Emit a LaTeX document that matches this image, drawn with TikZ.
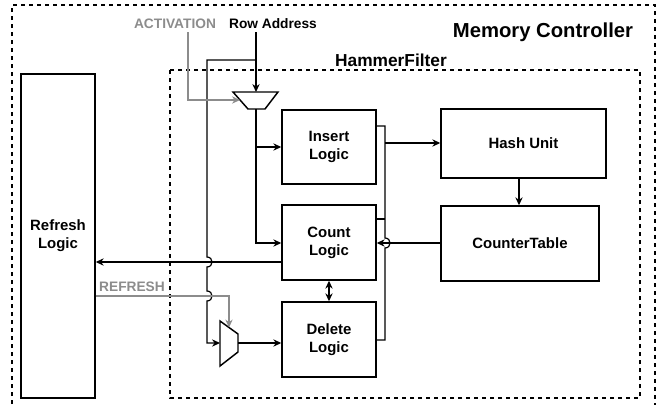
\documentclass[tikz,border=0pt]{standalone}
\usepackage{fontspec}
\setmainfont{Liberation Sans}
\usetikzlibrary{arrows.meta}
\definecolor{sigGray}{RGB}{140,140,140}
\begin{document}
\begin{tikzpicture}[x=0.75pt,y=-0.75pt,
  blk/.style={draw, line width=1.1pt, align=center, inner sep=0pt,
    font=\bfseries\fontsize{11.2}{13.5}\selectfont},
  wire/.style={draw, line width=0.9pt},
  arr/.style={wire, -{Stealth[length=6pt,width=5.5pt,inset=2pt]}},
  darr/.style={wire, {Stealth[length=6pt,width=5.5pt,inset=2pt]}-{Stealth[length=6pt,width=5.5pt,inset=2pt]}},
  garr/.style={arr, sigGray},
  frame/.style={draw, line width=0.9pt, dash pattern=on 3pt off 3pt},
  muxs/.style={draw, line width=1.1pt, line join=miter},
  lbl/.style={font=\bfseries\fontsize{10.3}{12}\selectfont, inner sep=0pt},
  glbl/.style={lbl, text=sigGray}
]
\useasboundingbox (0,0) rectangle (672,404);

% frames
\draw[frame] (12,412) -- (12,5) -- (655,5) -- (655,412);
\draw[frame] (170,70) rectangle (640,398);
\node[inner sep=0pt, font=\bfseries\fontsize{15.2}{18}\selectfont] (mc) at (543,32) {Memory Controller};
\node[inner sep=0pt, font=\bfseries\fontsize{13}{15}\selectfont] (hf) at (391,60) {HammerFilter};

% blocks
\node[blk, minimum width=55.5pt, minimum height=243pt] (refresh) at (58,236) {Refresh\\Logic};
\node[blk, minimum width=70.5pt, minimum height=55.5pt] (insert) at (329,147) {Insert\\Logic};
\node[blk, minimum width=70.5pt, minimum height=56.25pt] (count) at (329,242.5) {Count\\Logic};
\node[blk, minimum width=70.5pt, minimum height=56.25pt] (delete) at (329,339.5) {Delete\\Logic};
\node[blk, minimum width=123.75pt, minimum height=51.75pt] (hash) at (523.5,143.5) {Hash Unit};
\node[blk, minimum width=118.5pt, minimum height=56.25pt] (ctable) at (520,243.5) {CounterTable};

% labels
\node[glbl] (act) at (175,24) {ACTIVATION};
\node[lbl] (row) at (273,24) {Row Address};
\node[glbl] (ref) at (132,287) {REFRESH};

% muxes
\draw[muxs] (233,92) -- (278,92) -- (265,109) -- (248,109) -- cycle;
\coordinate (mux1in) at (256,92);
\coordinate (mux1out) at (256,109);
\coordinate (mux1sel) at (240,100);
\draw[muxs] (220,321) -- (238,334) -- (238,352) -- (220,366) -- cycle;
\coordinate (mux2in) at (220,343);
\coordinate (mux2out) at (238,343);
\coordinate (mux2sel) at (229,327.5);

% row address
\draw[arr] (row.south -| mux1in) ++(0,3) -- (mux1in);
\draw[arr] (256,60) -- (207,60) -- (207,257)
  .. controls (213.7,257) and (213.7,267) .. (207,267) -- (207,291)
  .. controls (213.7,291) and (213.7,301) .. (207,301) -- (207,343) -- (mux2in);
% activation
\draw[garr] (act.south -| 188,0) ++(0,3) -- (188,100) -- (mux1sel);

% mux1 output
\draw[arr] (mux1out) -- (256,243) -- (count.west |- 0,243);
\draw[arr] (256,147) -- (insert.west |- 0,147);

% bus
\draw[wire] (insert.east |- 0,126) -- (385,126) -- (385,238)
  .. controls (391.7,238) and (391.7,248) .. (385,248) -- (385,340) -- (delete.east |- 0,340);
\draw[wire] (count.east |- 0,219) -- (385,219);
\draw[arr] (385,143) -- (hash.west |- 0,143);

% hash -> counter table
\draw[arr] (hash.south -| 519,0) -- (ctable.north -| 519,0);
% counter table -> count
\draw[arr] (ctable.west |- 0,243) -- (count.east |- 0,243);
% count -> refresh
\draw[arr] (count.west |- 0,262) -- (refresh.east |- 0,262);
% refresh signal
\draw[garr] (refresh.east |- 0,296) -- (229,296) -- (mux2sel);
% mux2 -> delete
\draw[arr] (mux2out) -- (delete.west |- mux2out);
% count <-> delete
\draw[darr] (count.south) -- (delete.north);
\end{tikzpicture}
\end{document}
